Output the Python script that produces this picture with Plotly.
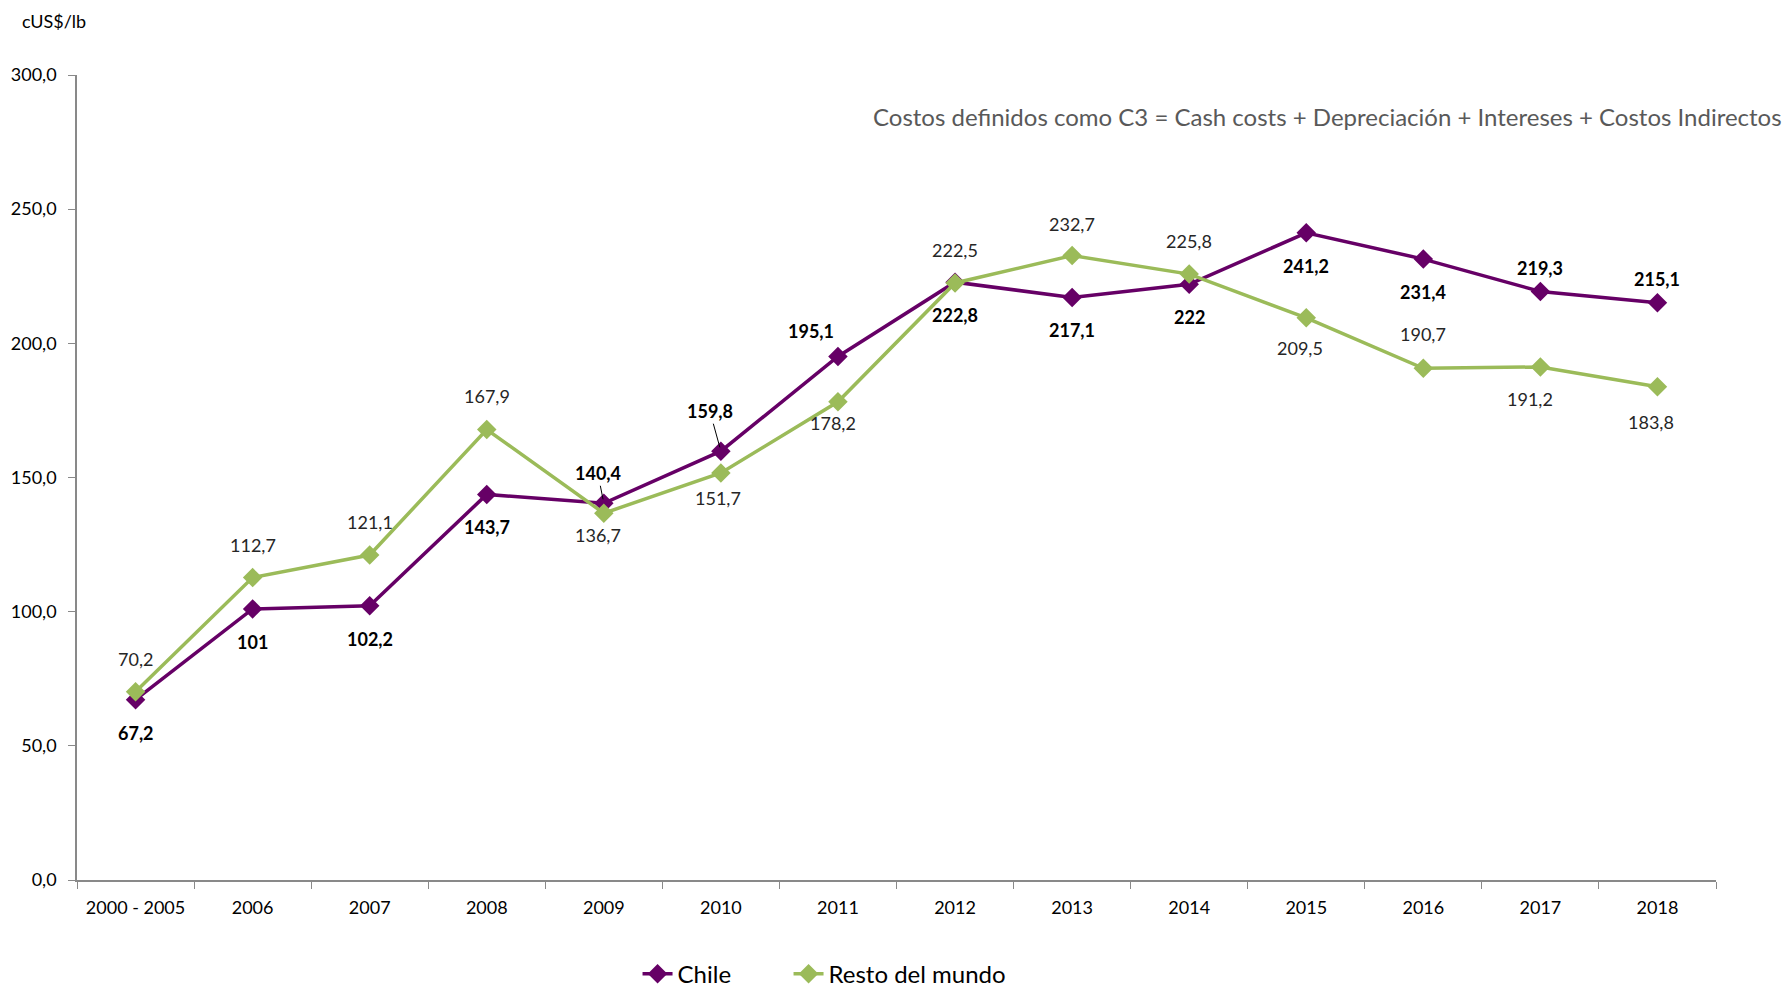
import plotly.graph_objects as go

categories = ["2000 - 2005", "2006", "2007", "2008", "2009", "2010", "2011",
              "2012", "2013", "2014", "2015", "2016", "2017", "2018"]
chile = [67.2, 101.0, 102.2, 143.7, 140.4, 159.8, 195.1, 222.8, 217.1, 222.0,
         241.2, 231.4, 219.3, 215.1]
resto = [70.2, 112.7, 121.1, 167.9, 136.7, 151.7, 178.2, 222.5, 232.7, 225.8,
         209.5, 190.7, 191.2, 183.8]

# label placement styles (pixel offsets: xshift, yshift; 'arrow' = leader line)
chile_lbl = [(0, -33), (0, -33), (0, -33), (0, -33), "arrow1", "arrow2", (-27, 25),
             (0, -33), (0, -33), (0, -33), (0, -33), (0, -33), (0, 24), (0, 24)]
resto_lbl = [(0, 33), (0, 33), (0, 33), (0, 33), (-6, -22), (-3, -25), (-5, -21),
             (0, 33), (0, 32), (0, 33), (-6, -30), (0, 34), (-10, -32), (-6, -35)]

C_CHILE = "#660066"
C_RESTO = "#9BBB59"
FONT = "Lato"


def fmt(v):
    return f"{v:g}".replace(".", ",")


fig = go.Figure()
fig.add_trace(go.Scatter(x=categories, y=chile, name="Chile", mode="lines+markers",
                         legendwidth=106,
                         line=dict(color=C_CHILE, width=3.5),
                         marker=dict(symbol="diamond", size=15, color=C_CHILE)))
fig.add_trace(go.Scatter(x=categories, y=resto, name="Resto del mundo", mode="lines+markers",
                         line=dict(color=C_RESTO, width=3.5),
                         marker=dict(symbol="diamond", size=15, color=C_RESTO)))

ann = []
for i, (v, s) in enumerate(zip(chile, chile_lbl)):
    txt = "<b>" + fmt(v) + "</b>"
    f = dict(family=FONT, size=18, color="black")
    if s == "arrow1":
        ann.append(dict(x=i, y=v, text=txt, showarrow=True, arrowhead=0, arrowwidth=1,
                        arrowcolor="black", ax=-6, ay=-30, standoff=4, font=f))
    elif s == "arrow2":
        ann.append(dict(x=i, y=v, text=txt, showarrow=True, arrowhead=0, arrowwidth=1,
                        arrowcolor="black", ax=-11, ay=-40, standoff=4, font=f))
    else:
        ann.append(dict(x=i, y=v, text=txt, showarrow=False, xshift=s[0], yshift=s[1], font=f))
for i, (v, s) in enumerate(zip(resto, resto_lbl)):
    ann.append(dict(x=i, y=v, text=fmt(v), showarrow=False, xshift=s[0], yshift=s[1],
                    font=dict(family=FONT, size=18, color="#262626")))

ann.append(dict(xref="paper", yref="paper", x=0, y=1, xanchor="left", yanchor="middle",
                xshift=-57, yshift=54, text="cUS$/lb", showarrow=False,
                font=dict(family=FONT, size=18, color="black")))
ann.append(dict(xref="paper", yref="paper", x=1, y=1, xanchor="right", yanchor="middle",
                xshift=68, yshift=-41,
                text="Costos definidos como C3 = Cash costs + Depreciación + Intereses + Costos Indirectos",
                showarrow=False, font=dict(family=FONT, size=24, color="#595959")))

fig.update_layout(
    width=1782, height=985,
    margin=dict(l=69, r=74, t=67, b=113, autoexpand=False),
    plot_bgcolor="white", paper_bgcolor="white",
    separators=",.",
    font=dict(family=FONT, size=18, color="black"),
    showlegend=True,
    legend=dict(orientation="h", x=0.342, xanchor="left", y=-0.117, yanchor="middle",
                font=dict(family=FONT, size=24, color="black")),
    annotations=ann,
    xaxis=dict(type="category", range=[-0.5, 13.5], showline=True, linecolor="#898989",
               linewidth=1.5, ticks="outside", tickson="boundaries", ticklen=7,
               tickcolor="#898989", showgrid=False, zeroline=False, automargin=False,
               tickfont=dict(family=FONT, size=18, color="black"), ticklabelstandoff=11),
    yaxis=dict(range=[0, 300], dtick=50, tickformat=".1f", showline=True,
               linecolor="#898989", linewidth=1.5, ticks="outside", ticklen=7,
               tickcolor="#898989", showgrid=False, zeroline=False, automargin=False,
               tickfont=dict(family=FONT, size=18, color="black"), ticklabelstandoff=8),
)

fig.write_html("out.html")
